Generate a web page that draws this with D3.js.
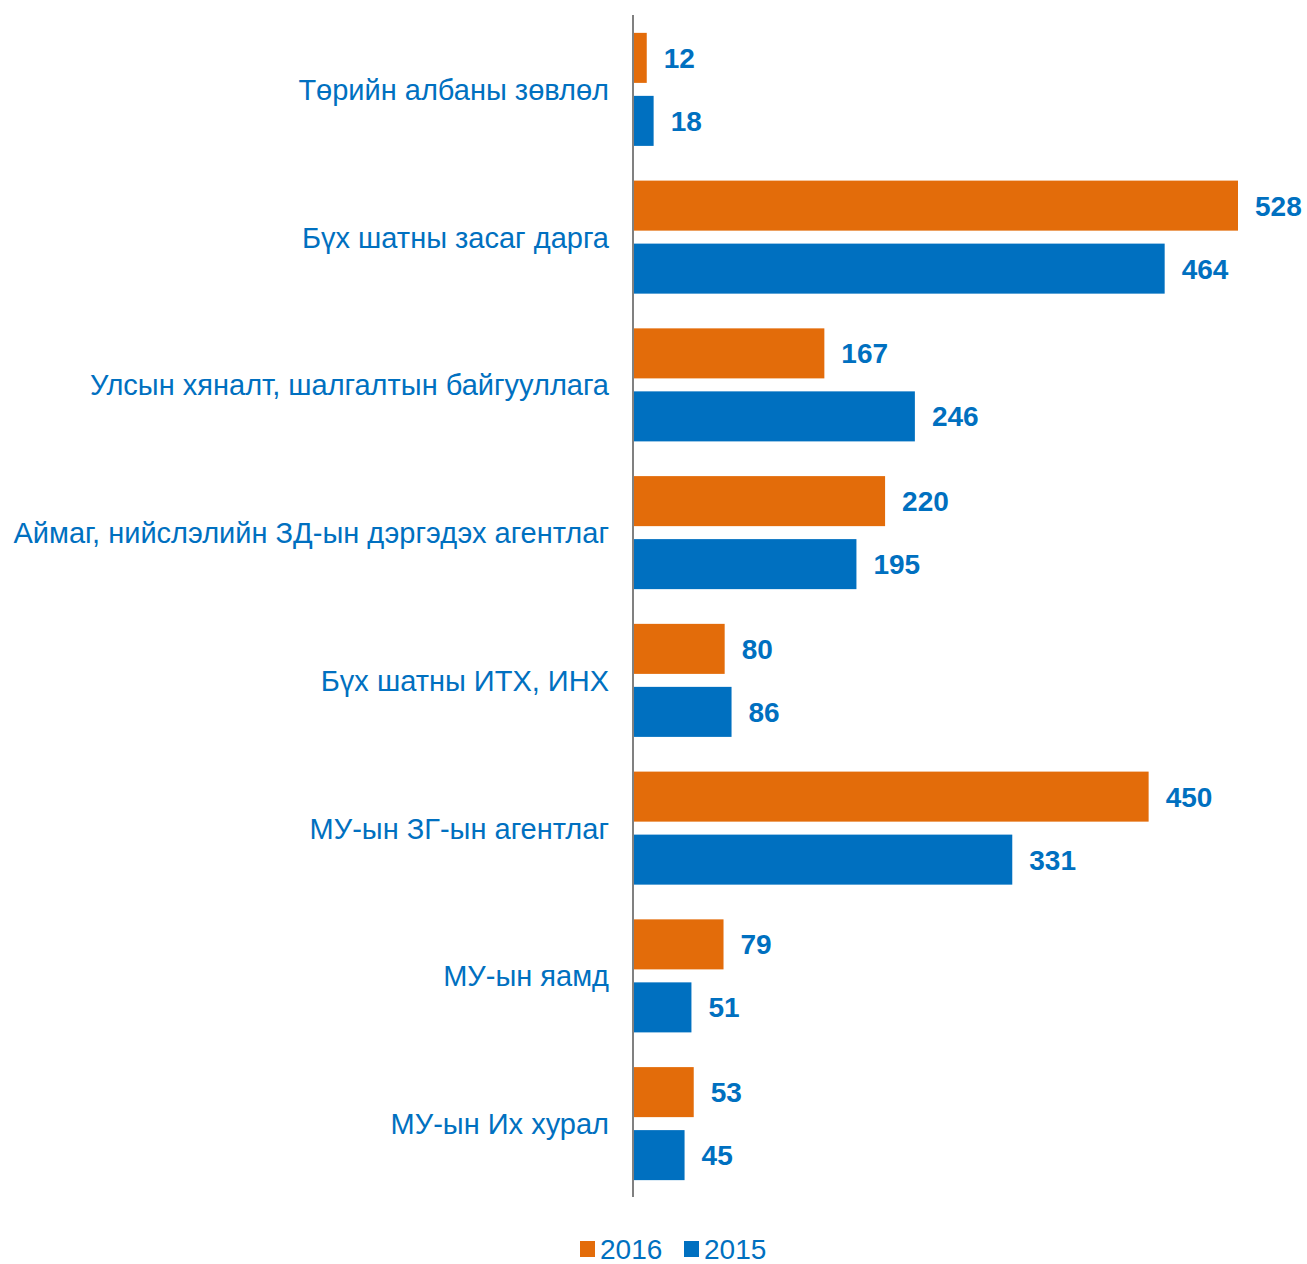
<!DOCTYPE html>
<html><head><meta charset="utf-8">
<script src="https://cdn.jsdelivr.net/npm/d3@7"></script>
<style>body{margin:0;background:#fff}svg{display:block}text{font-family:"Liberation Sans",Arial,sans-serif}</style>
</head><body>
<script>
const categories = ["Төрийн албаны зөвлөл","Бүх шатны засаг дарга","Улсын хяналт, шалгалтын байгууллага","Аймаг, нийслэлийн ЗД-ын дэргэдэх агентлаг","Бүх шатны ИТХ, ИНХ","МУ-ын ЗГ-ын агентлаг","МУ-ын яамд","МУ-ын Их хурал"];
const series = ["2016","2015"];
const values2016 = [12,528,167,220,80,450,79,53];
const values2015 = [18,464,246,195,86,331,51,45];
const colors = {"2016":"#E36C0A","2015":"#0070C0"};
const textColor = "#0070C0";

const W=1307,H=1264;
const svg=d3.select("body").append("svg").attr("width",W).attr("height",H);
const x0=633;
const x=d3.scaleLinear().domain([0,528]).range([x0,1238]);
const y=d3.scaleBand().domain(categories).range([15.5,1197.5]).paddingInner(0.235).paddingOuter(0.1175);
const ys=d3.scaleBand().domain(series).range([0,y.bandwidth()]).paddingInner(0.206).paddingOuter(0);

const data=categories.map((c,i)=>({c,vals:[{s:"2016",v:values2016[i]},{s:"2015",v:values2015[i]}]}));
const g=svg.selectAll("g.cat").data(data).enter().append("g").attr("transform",d=>`translate(0,${y(d.c)})`);
g.selectAll("rect").data(d=>d.vals).enter().append("rect")
 .attr("x",x0).attr("y",d=>ys(d.s)).attr("width",d=>x(d.v)-x0).attr("height",ys.bandwidth())
 .attr("fill",d=>colors[d.s]);
g.selectAll("text.val").data(d=>d.vals).enter().append("text").attr("class","val")
 .attr("x",d=>x(d.v)+17).attr("y",d=>ys(d.s)+ys.bandwidth()/2).attr("dy","0.36em")
 .attr("fill",textColor).attr("font-weight","bold").attr("font-size",28).text(d=>d.v);

// axis
const axis=d3.axisLeft(y).tickSize(0).tickPadding(24);
const ag=svg.append("g").attr("transform",`translate(${x0},0)`).call(axis);
ag.select(".domain").attr("stroke","#808080").attr("stroke-width",2).attr("d","M0,15V1197");
ag.selectAll(".tick text").attr("fill",textColor).attr("font-size",29)
  .attr("font-family","'Liberation Sans',Arial,sans-serif").attr("dy","0.36em");

// legend
const leg=svg.append("g");
const lx=[580,684];
series.forEach((s,i)=>{
  leg.append("rect").attr("x",lx[i]).attr("y",1241).attr("width",15).attr("height",16).attr("fill",colors[s]);
  leg.append("text").attr("x",lx[i]+20).attr("y",1259).attr("font-size",28).attr("fill",textColor).text(s);
});
</script>
</body></html>
